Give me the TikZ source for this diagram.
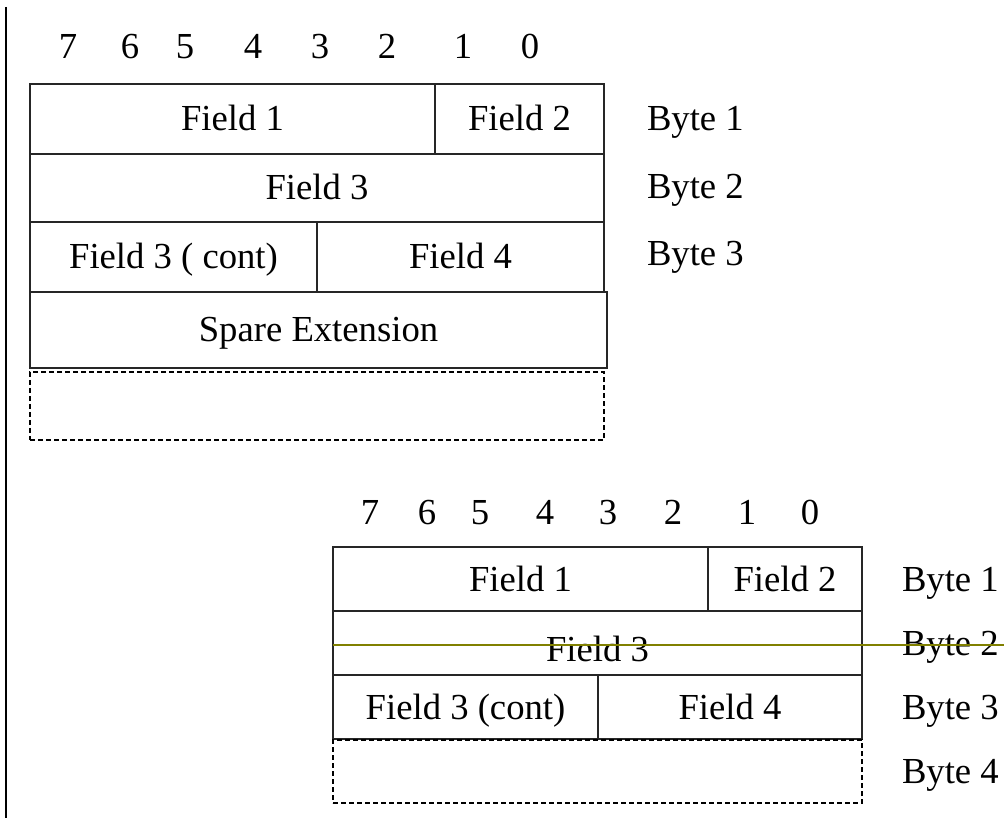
\documentclass[tikz,border=0pt]{standalone}
\usepackage{fontspec}
\setmainfont{Liberation Serif}
\usetikzlibrary{fit}
\definecolor{linegreen}{HTML}{808000}
\begin{document}
\begin{tikzpicture}[x=0.75pt,y=-0.75pt,
  txt/.style={font=\fontsize{27.5}{32}\selectfont, inner sep=0pt, outer sep=0pt, text height=18pt, text depth=0pt},
  cell/.style={draw=black!85, line width=0.8pt, inner sep=0pt, outer sep=0pt},
  spare/.style={draw=black, line width=0.8pt, dash pattern=on 3.75pt off 2.25pt, inner sep=0pt, outer sep=0pt},
  bytelab/.style={txt, anchor=west}]
\useasboundingbox (0,0) rectangle (1004,823);
% left vertical rule
\coordinate (vt) at (6,7);
\coordinate (vb) at (6,818);
\draw[line width=1.5pt] (vt) -- (vb);

% ---------- top diagram ----------
\foreach \b/\x in {7/68,6/130,5/185,4/253,3/320,2/387,1/463,0/530}
  \node[txt] (tb\b) at (\x,47) {\b};
\node[cell, fit={(30,84)(435,154)}] (t1a) {};
\node[cell, fit={(435,84)(604,154)}] (t1b) {};
\node[cell, fit={(30,154)(604,222)}] (t2) {};
\node[cell, fit={(30,222)(317,292)}] (t3a) {};
\node[cell, fit={(317,222)(604,292)}] (t3b) {};
\node[cell, fit={(30,292)(607,368)}] (t4) {};
\node[spare, fit={(30,372)(604,440)}] (t5) {};
\node[txt] (t1at) at (t1a.center) {Field 1};
\node[txt] (t1bt) at (t1b.center) {Field 2};
\node[txt] (t2t) at (t2.center) {Field 3};
\node[txt] (t3at) at (t3a.center) {Field 3 ( cont)};
\node[txt] (t3bt) at (t3b.center) {Field 4};
\node[txt] (t4t) at (t4.center) {Spare Extension};
\node[bytelab] (tl1) at (647,119) {Byte 1};
\node[bytelab] (tl2) at (647,187) {Byte 2};
\node[bytelab] (tl3) at (647,254) {Byte 3};

% ---------- bottom diagram ----------
\foreach \b/\x in {7/370,6/427,5/480,4/545,3/608,2/673,1/747,0/810}
  \node[txt] (bb\b) at (\x,513) {\b};
\node[cell, fit={(333,547)(708,611)}] (b1a) {};
\node[cell, fit={(708,547)(862,611)}] (b1b) {};
\node[cell, fit={(333,611)(862,675)}] (b2) {};
\node[cell, fit={(333,675)(598,739)}] (b3a) {};
\node[cell, fit={(598,675)(862,739)}] (b3b) {};
\node[spare, fit={(333,740)(862,803)}] (b4) {};
\node[txt] (b1at) at (b1a.center) {Field 1};
\node[txt] (b1bt) at (b1b.center) {Field 2};
\node[txt] (b2t) at ([yshift=-5pt]b2.center) {Field 3};
\node[txt] (b3at) at (b3a.center) {Field 3 (cont)};
\node[txt] (b3bt) at (b3b.center) {Field 4};
\node[bytelab] (bl1) at (902,579) {Byte 1};
\node[bytelab] (bl2) at (902,643) {Byte 2};
\node[bytelab] (bl3) at (902,707) {Byte 3};
\node[bytelab] (bl4) at (902,771) {Byte 4};

% olive strike line
\coordinate (gs) at (333,645);
\coordinate (ge) at (1004,645);
\draw[linegreen, line width=1.5pt] (gs) -- (ge);
\end{tikzpicture}
\end{document}
